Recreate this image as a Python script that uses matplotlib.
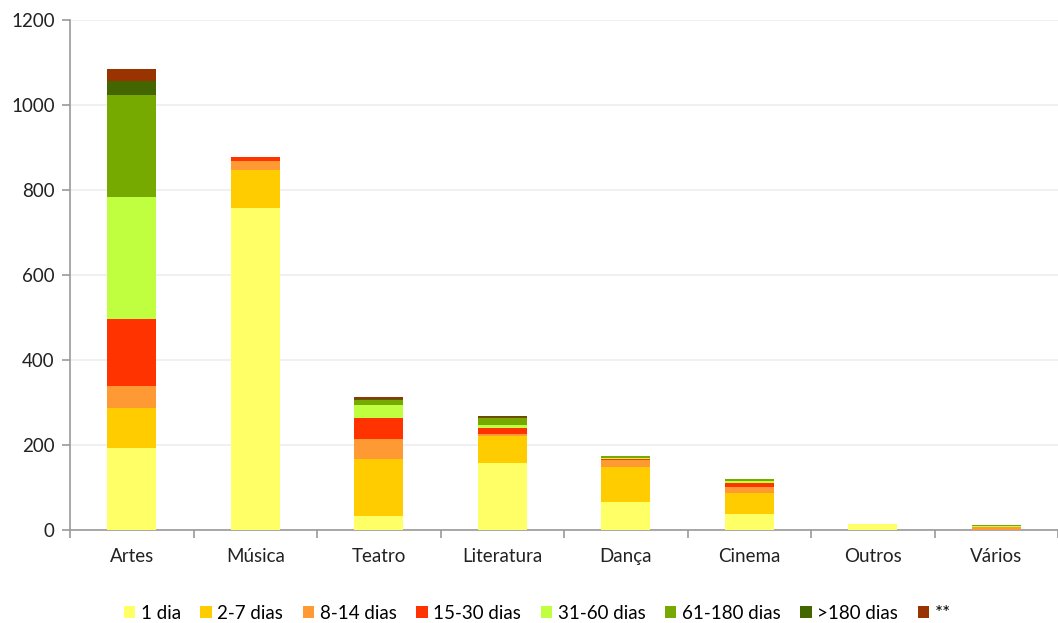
import numpy as np
import matplotlib.pyplot as plt

plt.rcParams['font.family'] = ['Lato', 'DejaVu Sans']

categories = ["Artes", "Música", "Teatro", "Literatura", "Dança", "Cinema", "Outros", "Vários"]
series_names = ["1 dia", "2-7 dias", "8-14 dias", "15-30 dias", "31-60 dias", "61-180 dias", ">180 dias", "**"]

dia_1 = [193, 758, 33, 158, 66, 37, 13, 0]
dias_2_7 = [94, 89, 134, 63, 83, 49, 0, 0]
dias_8_14 = [52, 21, 47, 6, 15, 16, 1, 6]
dias_15_30 = [157, 9, 49, 13, 3, 8, 0, 0]
dias_31_60 = [287, 0, 32, 7, 3, 6, 0, 4]
dias_61_180 = [241, 0, 11, 17, 3, 3, 0, 1]
dias_180 = [32, 0, 2, 1, 0, 0, 0, 0]
outros_ast = [29, 0, 5, 3, 2, 1, 1, 0]

series = [dia_1, dias_2_7, dias_8_14, dias_15_30, dias_31_60, dias_61_180, dias_180, outros_ast]
colors = ["#FFFF66", "#FFCC00", "#FF9933", "#FF3300", "#BFFF3F", "#77AA00", "#446600", "#993300"]

fig = plt.figure(figsize=(10.58, 6.23), dpi=100)
ax = fig.add_axes([70 / 1058, 93 / 623, 988 / 1058, 510 / 623])

x = np.arange(len(categories))
bottom = np.zeros(len(categories))
for name, vals, col in zip(series_names, series, colors):
    ax.bar(x, vals, 0.4, bottom=bottom, color=col, label=name, zorder=3)
    bottom += np.array(vals)

ax.set_ylim(0, 1200)
ax.set_xlim(-0.5, 7.47)
ax.set_yticks(range(0, 1201, 200))
ax.yaxis.grid(True, color="#EEEEEE", linewidth=1.2, zorder=0)

ax.set_xticks(x)
ax.set_xticklabels(categories)
ax.set_xticks(np.arange(-0.5, 8, 1), minor=True)
ax.tick_params(axis="x", which="major", length=0, pad=13, labelsize=13.5, colors="#222222")
ax.tick_params(axis="x", which="minor", length=6, width=1.2, color="#999999")
ax.tick_params(axis="y", length=6, width=1.2, color="#999999", labelsize=13.5, labelcolor="#222222", pad=5)

for s in ["top", "right"]:
    ax.spines[s].set_visible(False)
for s in ["left", "bottom"]:
    ax.spines[s].set_color("#999999")
    ax.spines[s].set_linewidth(1.2)

ax.legend(loc="lower center", bbox_to_anchor=(0.473, -0.206), ncol=8, frameon=False,
          fontsize=13.5, handlelength=0.6, handleheight=0.6, handletextpad=0.3,
          columnspacing=1.05, borderpad=0.2)

fig.savefig("out.png", dpi=100)
